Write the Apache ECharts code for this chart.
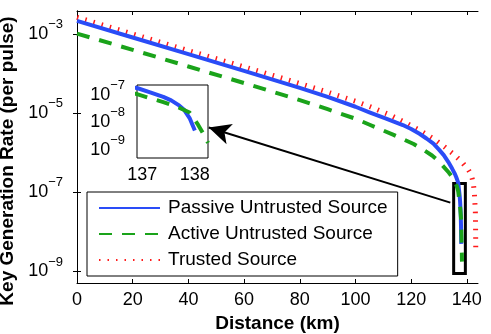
<!DOCTYPE html>
<html>
<head>
<meta charset="utf-8">
<script src="https://cdn.jsdelivr.net/npm/echarts@6/dist/echarts.min.js"></script>
<style>
  html, body { margin: 0; padding: 0; background: #fff; }
  #chart { width: 491px; height: 334px; }
</style>
</head>
<body>
<div id="chart"></div>
<script>
// distances in km, rates in key bits per pulse
const passiveDist = [0, 20, 40, 60, 80, 90, 100, 105, 111, 117, 120, 123, 125.5, 128, 130, 131.7, 133.3, 134.7, 135.6, 136.2, 136.6, 136.9, 137.15, 137.4, 137.55, 137.7, 137.8, 137.9, 138.0];
const passiveRate = [2.14e-3, 8.13e-4, 3.09e-4, 1.17e-4, 4.37e-5, 2.57e-5, 1.45e-5, 1.05e-5, 7.24e-6, 5.01e-6, 3.98e-6, 3.02e-6, 2.29e-6, 1.70e-6, 1.20e-6, 8.71e-7, 5.89e-7, 3.98e-7, 3.02e-7, 2.40e-7, 2.0e-7, 1.74e-7, 1.20e-7, 8.32e-8, 6.17e-8, 4.07e-8, 2.75e-8, 1.41e-8, 5.0e-9];

const activeDist = [0, 20, 40, 60, 80, 90, 100, 105.3, 113.7, 120.9, 124.5, 127.5, 129.5, 131, 133.5, 134.8, 135.9, 136.5, 136.9, 137.15, 137.4, 137.65, 137.9, 138.06, 138.2, 138.25];
const activeRate = [1.02e-3, 3.98e-4, 1.51e-4, 5.75e-5, 2.14e-5, 1.26e-5, 7.24e-6, 5.01e-6, 2.82e-6, 1.66e-6, 1.17e-6, 8.51e-7, 6.46e-7, 5.01e-7, 3.16e-7, 2.40e-7, 1.74e-7, 1.35e-7, 1.05e-7, 7.41e-8, 5.37e-8, 3.72e-8, 2.24e-8, 8.13e-9, 2.82e-9, 1.78e-9];

const trustedDist = [0, 20, 40, 60, 80, 90, 100, 105.3, 112.5, 118.5, 123.9, 128.7, 132.3, 135.3, 138.3, 140.6, 141.4, 141.9, 142.4, 142.7, 143.05, 143.15, 143.2];
const trustedRate = [2.63e-3, 1.0e-3, 3.80e-4, 1.48e-4, 5.62e-5, 3.39e-5, 2.0e-5, 1.45e-5, 8.91e-6, 5.50e-6, 3.39e-6, 2.09e-6, 1.35e-6, 9.1e-7, 5.75e-7, 3.63e-7, 2.95e-7, 2.24e-7, 1.48e-7, 1.0e-7, 3.16e-8, 1.0e-8, 3.16e-9];

const xTicks = [0, 20, 40, 60, 80, 100, 120, 140];
const yTicks = [1e-9, 1e-7, 1e-5, 1e-3];
const insetXTicks = [137, 138];
const insetYTicks = [1e-9, 1e-8, 1e-7];

const names = ['Passive Untrusted Source', 'Active Untrusted Source', 'Trusted Source'];

// zoom box and arrow (data coordinates of the main axes)
const zoomBox = [[135.26, 1.66e-7], [139.46, 8.9e-10]];
const arrowFrom = [134.07, 5.5e-8];
const arrowTo = [47.3, 4.33e-6];

const FONT = '"Liberation Sans", Arial, Helvetica, sans-serif';
const pair = (xs, ys) => xs.map((x, i) => [x, ys[i]]);

const powLabel = v => {
  const e = Math.round(Math.log10(v));
  return '{b|10}{s|' + (e < 0 ? '\u2212' + (-e) : e) + '}';
};
const richPow = {
  b: { fontSize: 18, fontFamily: FONT, color: '#000', lineHeight: 32 },
  s: { fontSize: 13, fontFamily: FONT, color: '#000', lineHeight: 13, verticalAlign: 'top' }
};

const blackLine = { show: true, lineStyle: { color: '#000', width: 1 } };
const inTicks = vals => ({ inside: true, length: 4, customValues: vals, lineStyle: { color: '#000', width: 1 } });

const styles = [
  { color: '#2a4cf7', width: 4, type: 'solid', z: 3 },
  { color: '#1aa31a', width: 4, type: [13, 10], z: 4 },
  { color: '#ff1a1a', width: 5, type: [1.5, 7], z: 2 }
];
const dataSets = [pair(passiveDist, passiveRate), pair(activeDist, activeRate), pair(trustedDist, trustedRate)];

const makeSeries = (i, inset) => ({
  name: names[i],
  type: 'line',
  xAxisIndex: inset ? 2 : 0,
  yAxisIndex: inset ? 2 : 0,
  data: dataSets[i],
  symbol: 'none',
  smooth: false,
  z: styles[i].z + (inset ? 10 : 0),
  lineStyle: { color: styles[i].color, width: styles[i].width, type: styles[i].type, cap: 'butt', join: 'round' },
  itemStyle: { color: styles[i].color }
});

const series = [0, 1, 2].map(i => makeSeries(i, false));
series[0].markArea = {
  silent: true,
  itemStyle: { color: 'rgba(0,0,0,0)', borderColor: '#000', borderWidth: 3 },
  label: { show: false },
  data: [[{ coord: zoomBox[0] }, { coord: zoomBox[1] }]]
};
series[0].markLine = {
  silent: true,
  symbol: ['none', 'arrow'],
  symbolSize: [16, 22],
  label: { show: false },
  lineStyle: { color: '#000', width: 2, type: 'solid' },
  data: [[{ coord: arrowFrom }, { coord: arrowTo }]]
};
[0, 1, 2].forEach(i => series.push(makeSeries(i, true)));

const chart = echarts.init(document.getElementById('chart'));
chart.setOption({
  animation: false,
  textStyle: { fontFamily: FONT },
  grid: [
    { left: 77, right: 13, top: 11, bottom: 51, outerBoundsMode: 'none', containLabel: false },
    { left: 137, top: 85, width: 71, height: 73, show: true, borderColor: '#000', borderWidth: 1, backgroundColor: '#fff', z: 8, outerBoundsMode: 'none', containLabel: false }
  ],
  legend: {
    data: names,
    orient: 'vertical',
    left: 87, top: 192,
    itemWidth: 61, itemHeight: 14, itemGap: 6,
    padding: [6, 10, 6, 11],
    borderColor: '#000', borderWidth: 1, backgroundColor: '#fff',
    selectedMode: false,
    z: 20,
    itemStyle: { opacity: 0 },
    textStyle: { fontSize: 19, color: '#000', fontFamily: FONT, lineHeight: 20, padding: [0, 0, 0, 3] }
  },
  xAxis: [
    {
      gridIndex: 0, type: 'value', min: 0, max: 144,
      name: 'Distance (km)', nameLocation: 'middle', nameGap: 29,
      nameTextStyle: { fontSize: 19, fontWeight: 'bold', color: '#000', fontFamily: FONT },
      axisLine: blackLine, axisTick: inTicks(xTicks),
      axisLabel: { customValues: xTicks, fontSize: 18, color: '#000', margin: 8 },
      splitLine: { show: false }
    },
    {
      gridIndex: 0, type: 'value', position: 'top', min: 0, max: 144,
      axisLine: blackLine, axisTick: inTicks(xTicks),
      axisLabel: { show: false }, splitLine: { show: false }
    },
    {
      gridIndex: 1, type: 'value', min: 136.9, max: 138.25,
      axisLine: { show: false }, axisTick: { show: false },
      axisLabel: { customValues: insetXTicks, fontSize: 18, color: '#000', margin: 8 },
      splitLine: { show: false }
    }
  ],
  yAxis: [
    {
      gridIndex: 0, type: 'log', min: Math.pow(10, -9.29), max: Math.pow(10, -2.42),
      name: 'Key Generation Rate (per pulse)', nameLocation: 'middle', nameGap: 52,
      nameTextStyle: { fontSize: 19, fontWeight: 'bold', color: '#000', fontFamily: FONT, padding: [0, 28, 0, 0] },
      axisLine: blackLine, axisTick: inTicks(yTicks),
      axisLabel: { customValues: yTicks, formatter: powLabel, rich: richPow, margin: 14 },
      splitLine: { show: false }, minorTick: { show: false }
    },
    {
      gridIndex: 0, type: 'log', position: 'right', min: Math.pow(10, -9.29), max: Math.pow(10, -2.42),
      axisLine: blackLine, axisTick: inTicks(yTicks),
      axisLabel: { show: false }, splitLine: { show: false }
    },
    {
      gridIndex: 1, type: 'log', min: Math.pow(10, -9.3), max: Math.pow(10, -6.65),
      axisLine: { show: false }, axisTick: { show: false },
      axisLabel: { customValues: insetYTicks, formatter: powLabel, rich: richPow, margin: 12 },
      splitLine: { show: false }
    }
  ],
  series: series
});
</script>
</body>
</html>
